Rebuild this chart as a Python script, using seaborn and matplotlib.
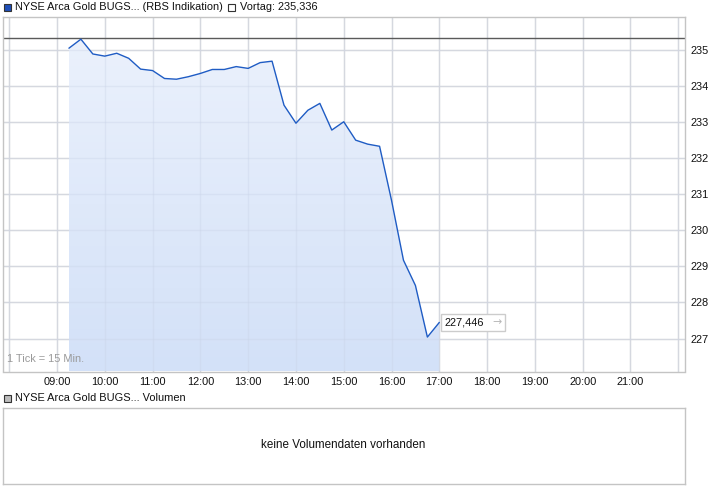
import matplotlib
matplotlib.use("Agg")
import matplotlib.pyplot as plt
import numpy as np
import seaborn as sns
from matplotlib.patches import Rectangle, Polygon
from matplotlib.offsetbox import TextArea, HPacker, AnnotationBbox

# intraday quotes, one tick = 15 min
times = ["09:15", "09:30", "09:45", "10:00", "10:15", "10:30", "10:45", "11:00",
         "11:15", "11:30", "11:45", "12:00", "12:15", "12:30", "12:45", "13:00",
         "13:15", "13:30", "13:45", "14:00", "14:15", "14:30", "14:45", "15:00",
         "15:15", "15:30", "15:45", "16:00", "16:15", "16:30", "16:45", "17:00"]
prices = [235.05, 235.30, 234.89, 234.83, 234.91, 234.77, 234.47, 234.43,
          234.21, 234.19, 234.26, 234.35, 234.46, 234.46, 234.54, 234.49,
          234.65, 234.69, 233.47, 232.97, 233.33, 233.52, 232.78, 233.01,
          232.50, 232.39, 232.33, 230.83, 229.17, 228.47, 227.04, 227.446]
prev_close = 235.336
last_label = "227,446"
y_ticks = [227, 228, 229, 230, 231, 232, 233, 234, 235]
x_tick_hours = list(range(9, 22))

hours = np.array([int(t[:2]) + int(t[3:]) / 60 for t in times])

W, H = 726, 496
sns.set_style("white")
plt.rcParams["font.family"] = ["Liberation Sans", "DejaVu Sans"]

fig = plt.figure(figsize=(W / 100, H / 100), dpi=100)

def px(x, y):
    return x / W, 1 - y / H

grid_c = "#dcdcdc"
border_c = "#c4c4c4"
line_c = "#1f5cc4"
fs = 7.9

# main price panel
ax = fig.add_axes([2.5 / W, 1 - 371.5 / H, 682 / W, 355 / H])
x0, x1 = 7.86, 22.13
y0, y1 = 226.085, 235.929

for h in range(8, 23):
    ax.axvline(h, color=grid_c, lw=1, zorder=0)
for v in y_ticks:
    ax.axhline(v, color=grid_c, lw=1, zorder=0)

# gradient area under line
verts = list(zip(hours, prices)) + [(hours[-1], y0), (hours[0], y0)]
poly = Polygon(verts, closed=True, fc="none", ec="none", transform=ax.transData)
ax.add_patch(poly)
grad = np.linspace(0, 1, 256).reshape(-1, 1)
cmap = matplotlib.colors.LinearSegmentedColormap.from_list("g", ["#ebf1fc", "#d3e1f8"])
img = ax.imshow(grad, extent=[hours[0], hours[-1], y0, max(prices)], aspect="auto",
                cmap=cmap, origin="upper", zorder=1)
img.set_clip_path(poly)
ax.set_xlim(x0, x1)
ax.set_ylim(y0, y1)
for h in range(8, 23):
    ax.axvline(h, color="#c8d2e6", lw=1, zorder=1.5, alpha=0.35)
for v in y_ticks:
    ax.axhline(v, color="#c8d2e6", lw=1, zorder=1.5, alpha=0.35)

sns.lineplot(x=hours, y=prices, ax=ax, color=line_c, linewidth=1, zorder=3)
ax.axhline(prev_close, color="#5a5a5a", lw=1, zorder=2)

ax.set_xticks(x_tick_hours)
ax.set_xticklabels([f"{h:02d}:00" for h in x_tick_hours])
ax.set_yticks(y_ticks)
ax.set_yticklabels([str(v) for v in y_ticks])
ax.yaxis.tick_right()
ax.tick_params(axis="both", length=0, labelsize=fs, colors="#111111")
ax.tick_params(axis="x", pad=4)
ax.tick_params(axis="y", pad=4)
ax.set_xlabel("")
ax.set_ylabel("")
for s in ax.spines.values():
    s.set_color(border_c)
    s.set_linewidth(1)

ax.text(0.007, 0.02, "1 Tick = 15 Min.", transform=ax.transAxes, fontsize=fs,
        color="#9a9a9a", ha="left", va="bottom")

# last value box
label_box = HPacker(children=[
    TextArea(last_label, textprops=dict(fontsize=fs, color="#111111")),
    TextArea("\u2192", textprops=dict(fontsize=fs, color="#b8b8b8", family="DejaVu Sans")),
], align="center", pad=0, sep=6)
ab = AnnotationBbox(label_box, (hours[-1], prices[-1]), xybox=(4, 0),
                    xycoords="data", boxcoords="offset points", box_alignment=(0, 0.5),
                    pad=0.25, frameon=True,
                    bboxprops=dict(boxstyle="square,pad=0.25", fc="white", ec="#cccccc", lw=1))
ab.set_zorder(5)
ax.add_artist(ab)

# header legend
fig.add_artist(Rectangle(px(4, 11), 7 / W, 7 / H, transform=fig.transFigure,
                         fc="#1f4fb8", ec="#333333", lw=0.8))
fig.text(*px(15, 7), "NYSE Arca Gold BUGS... (RBS Indikation)", fontsize=fs,
         va="center", ha="left", color="#111111")
fig.add_artist(Rectangle(px(228, 11), 7 / W, 7 / H, transform=fig.transFigure,
                         fc="white", ec="#333333", lw=0.8))
fig.text(*px(240, 7), "Vortag: 235,336", fontsize=fs, va="center", ha="left",
         color="#111111")

# volume panel
fig.add_artist(Rectangle(px(4, 402), 7 / W, 7 / H, transform=fig.transFigure,
                         fc="#bdbdbd", ec="#333333", lw=0.8))
fig.text(*px(15, 398), "NYSE Arca Gold BUGS... Volumen", fontsize=fs, va="center",
         ha="left", color="#111111")
vax = fig.add_axes([2.5 / W, 1 - 483.5 / H, 682 / W, 76 / H])
vax.set_xticks([])
vax.set_yticks([])
for s in vax.spines.values():
    s.set_color(border_c)
    s.set_linewidth(1)
vax.text(0.5, 0.5, "keine Volumendaten vorhanden", transform=vax.transAxes,
         ha="center", va="center", fontsize=8.4, color="#111111")

fig.savefig("out.png", dpi=100, facecolor="white")
